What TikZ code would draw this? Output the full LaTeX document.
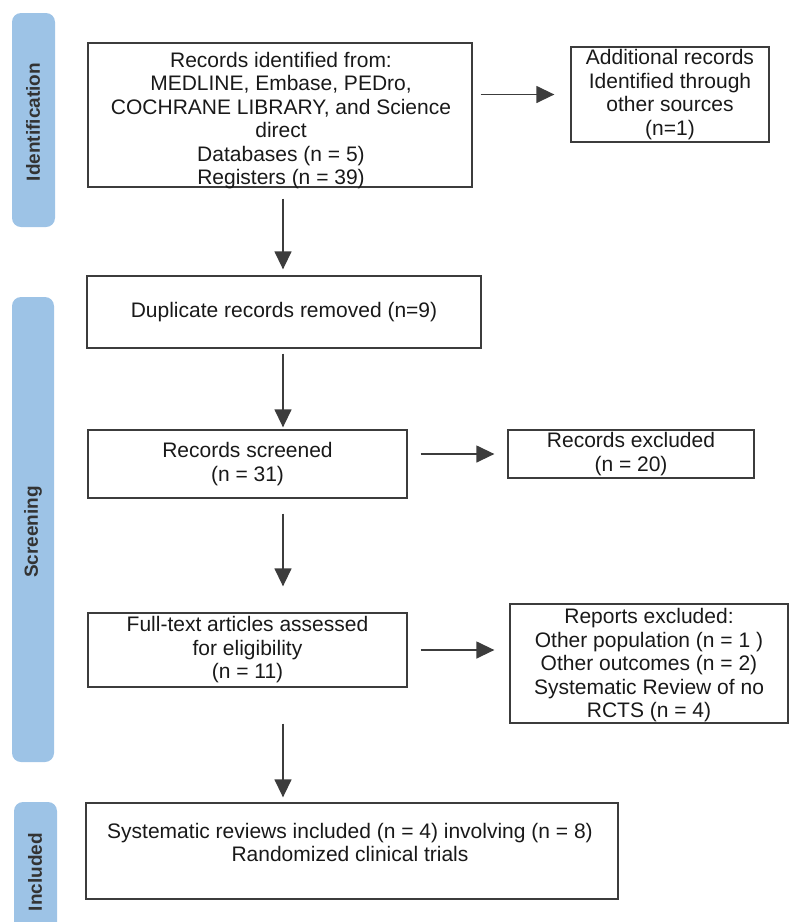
\documentclass[tikz,border=0pt]{standalone}
\usepackage{fontspec}
\setmainfont{Liberation Sans}
\usetikzlibrary{arrows.meta}
\definecolor{barblue}{RGB}{157,195,230}
\definecolor{linegray}{RGB}{60,60,60}
\tikzset{
  txt/.style={align=center, inner sep=0pt, font=\fontsize{21}{23.5}\selectfont, text=black!90},
  box/.style={txt, draw=linegray, line width=1.3pt},
  arr/.style={draw=linegray, line width=1.4pt, -{Triangle[length=18pt,width=17pt]}},
  bar/.style={fill=barblue, rounded corners=9pt},
  side/.style={rotate=90, font=\fontsize{19}{19}\selectfont\bfseries, text=black!80}
}
\begin{document}
\begin{tikzpicture}[x=1pt, y=-1pt]
            \useasboundingbox (0, 0) rectangle (789, 922);
            \fill [bar] (12, 13) rectangle (55, 227);
            \fill [bar] (12, 297) rectangle (54, 762);
            \fill [bar] (14, 935) rectangle (57, 802);
            \node [side] (lidf) at (33, 122) {Identification};
            \node [side] (lscr) at (33, 532) {Screening};
            \node [side] (linc) at (35, 872) {Included};
            \node [box, minimum width=384, minimum height=144] (ident) at (280, 115) {};
            \node [txt] (identtext) at (281, 120.5)
                {Records identified from:\\ MEDLINE, Embase, PEDro,\\ COCHRANE LIBRARY, and Science\\ direct\\ Databases (n = 5)\\ Registers (n = 39)};
            \node [box, minimum width=198, minimum height=95] (other) at (670, 94.5)
                {Additional records\\ Identified through\\ other sources\\ (n=1)};
            \node [box, minimum width=394, minimum height=72] (dup) at (284, 312)
                {Duplicate records removed (n=9)};
            \node [box, minimum width=319, minimum height=68] (screen) at (247.5, 464)
                {Records screened\\ (n = 31)};
            \node [box, minimum width=246, minimum height=48] (excl) at (631, 454)
                {Records excluded\\ (n = 20)};
            \node [box, minimum width=319, minimum height=74] (full) at (247.5, 650)
                {Full-text articles assessed\\ for eligibility\\ (n = 11)};
            \node [box, minimum width=278, minimum height=119] (rep) at (649, 663.5) {};
            \node [txt] (reptext) at (649, 665.5)
                {Reports excluded:\\ Other population (n = 1 )\\ Other outcomes (n = 2)\\ Systematic Review of no\\ RCTS (n = 4)};
            \node [box, minimum width=532, minimum height=96] (incl) at (352, 851) {};
            \node [txt] (incltext) at (350, 842.5)
                {Systematic reviews included (n = 4) involving (n = 8)\\ Randomized clinical trials};
            \coordinate (spine) at (283, 0);
            \draw [arr, shorten <=8pt, shorten >=16pt] (ident.east |- other.west) -- (other.west);
            \draw [arr, shorten <=11pt, shorten >=6pt] (ident.south -| spine) -- (dup.north -| spine);
            \draw [arr, shorten <=5pt, shorten >=2pt] (dup.south -| spine) -- (screen.north -| spine);
            \draw [arr, shorten <=13pt, shorten >=13pt] (screen.east |- excl.west) -- (excl.west);
            \draw [arr, shorten <=15pt, shorten >=26pt] (screen.south -| spine) -- (full.north -| spine);
            \draw [arr, shorten <=13pt, shorten >=15pt] (full.east) -- (full.east -| rep.west);
            \draw [arr, shorten <=36pt, shorten >=5pt] (full.south -| spine) -- (incl.north -| spine);
\end{tikzpicture}
\end{document}
